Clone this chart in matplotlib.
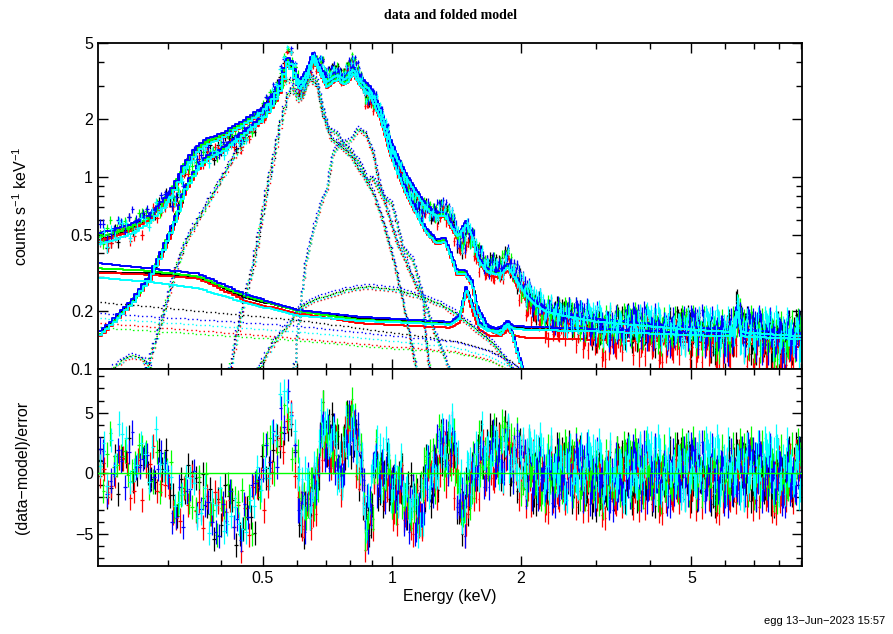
import numpy as np
import matplotlib
matplotlib.use('Agg')
from matplotlib import pyplot as plt
from matplotlib.ticker import FixedLocator, NullFormatter, MultipleLocator

plt.rcParams['font.family'] = ['Liberation Sans', 'DejaVu Sans']
plt.rcParams['mathtext.fontset'] = 'custom'
plt.rcParams['mathtext.rm'] = 'Liberation Sans'

colors = ['#000000', '#ff0000', '#00ff00', '#0000ff', '#00ffff']

# number of spectral bins per dataset in 0.2-0.6 / 0.6-2 / 2-9 keV
nbins = [[54, 150, 250], [52, 146, 262], [56, 152, 256], [55, 149, 259], [53, 147, 253]]

# source model (all components summed), counts/s/keV
src_E = [0.206, 0.22, 0.25, 0.272, 0.29, 0.308, 0.329, 0.35, 0.37, 0.4, 0.45, 0.5, 0.53,
         0.55, 0.57, 0.578, 0.61, 0.635, 0.655, 0.67, 0.705, 0.73, 0.748, 0.77, 0.79, 0.811,
         0.842, 0.888, 0.937, 0.965, 0.989, 1.044, 1.084, 1.14, 1.2, 1.27, 1.33, 1.37, 1.42,
         1.48, 1.54, 1.58, 1.67, 1.79, 1.86, 1.91, 1.96, 2.02, 2.1, 2.3, 3.0, 9.06]
src_val = [0.15, 0.17, 0.23, 0.30, 0.40, 0.55, 0.86, 1.10, 1.25, 1.37, 1.68, 2.02, 2.45,
           2.9, 3.85, 3.9, 2.9, 3.4, 4.2, 3.8, 3.0, 3.2, 3.3, 3.1, 3.2, 3.55,
           3.1, 2.7, 2.1, 1.7, 1.38, 1.0, 0.82, 0.66, 0.53, 0.46, 0.47, 0.40, 0.32,
           0.32, 0.28, 0.21, 0.165, 0.154, 0.172, 0.154, 0.125, 0.10, 0.07, 0.04, 0.02, 0.005]
src_norm = [1.0, 0.97, 1.0, 1.03, 0.98]

# background model per dataset
bg_E = [0.206, 0.27, 0.353, 0.46, 0.604, 0.842, 1.1, 1.37, 1.44, 1.49, 1.54, 1.6, 1.69,
        1.8, 1.86, 1.92, 2.07, 3.0, 5.0, 6.25, 6.4, 6.55, 9.06]
bg_black = [0.32, 0.315, 0.30, 0.233, 0.203, 0.183, 0.178, 0.172, 0.187, 0.265, 0.218, 0.172,
            0.16, 0.162, 0.178, 0.165, 0.162, 0.158, 0.152, 0.15, 0.197, 0.15, 0.145]
bg_red = [0.318, 0.31, 0.297, 0.224, 0.195, 0.173, 0.168, 0.164, 0.175, 0.253, 0.20, 0.16,
          0.148, 0.148, 0.16, 0.15, 0.145, 0.142, 0.138, 0.136, 0.18, 0.136, 0.13]
bg_green = [0.335, 0.325, 0.303, 0.238, 0.20, 0.18, 0.176, 0.171, 0.185, 0.262, 0.215, 0.17,
            0.158, 0.16, 0.174, 0.163, 0.16, 0.157, 0.15, 0.148, 0.195, 0.148, 0.143]
bg_blue = [0.356, 0.335, 0.315, 0.243, 0.203, 0.187, 0.181, 0.176, 0.19, 0.268, 0.22, 0.175,
           0.163, 0.165, 0.18, 0.168, 0.166, 0.162, 0.155, 0.153, 0.21, 0.153, 0.148]
bg_cyan = [0.299, 0.285, 0.263, 0.22, 0.19, 0.178, 0.174, 0.17, 0.184, 0.26, 0.213, 0.168,
           0.157, 0.159, 0.172, 0.162, 0.16, 0.157, 0.15, 0.148, 0.195, 0.148, 0.143]
bg_all = [bg_black, bg_red, bg_green, bg_blue, bg_cyan]

# individual model components (dotted)
compL_E = [0.262, 0.28, 0.295, 0.312, 0.33, 0.37, 0.425, 0.466, 0.51, 0.556, 0.578, 0.61,
           0.643, 0.668, 0.69, 0.71, 0.744, 0.77, 0.8, 0.842, 0.874, 0.9, 0.95, 1.0, 1.06,
           1.12, 1.18, 1.23, 1.27, 1.32, 1.38]
compL_val = [0.09, 0.14, 0.21, 0.33, 0.47, 0.73, 1.27, 1.72, 2.2, 3.1, 3.3, 2.6,
             3.5, 3.2, 2.3, 1.8, 1.7, 1.5, 1.38, 1.18, 0.97, 1.0, 0.8, 0.73, 0.43,
             0.37, 0.24, 0.18, 0.147, 0.12, 0.09]
compR_E = [0.415, 0.44, 0.475, 0.51, 0.548, 0.578, 0.61, 0.643, 0.668, 0.69, 0.72, 0.76,
           0.8, 0.85, 0.9, 0.95, 1.0, 1.05, 1.1, 1.15]
compR_val = [0.09, 0.18, 0.36, 0.86, 1.9, 3.0, 2.5, 3.3, 3.0, 2.1, 1.6, 1.45,
             1.3, 1.05, 0.85, 0.6, 0.4, 0.25, 0.15, 0.09]
compB_E = [0.59, 0.61, 0.627, 0.654, 0.69, 0.705, 0.717, 0.728, 0.757, 0.8, 0.833, 0.865,
           0.9, 0.93, 0.96, 0.99, 1.03, 1.08, 1.14, 1.18, 1.2, 1.23]
compB_val = [0.09, 0.2, 0.356, 0.53, 0.79, 0.86, 1.13, 1.34, 1.5, 1.56, 1.8, 1.7,
             1.38, 0.97, 0.75, 0.6, 0.45, 0.36, 0.27, 0.24, 0.14, 0.09]
compD_E = [0.48, 0.53, 0.578, 0.61, 0.654, 0.785, 0.874, 1.03, 1.16, 1.29, 1.39, 1.55,
           1.72, 1.86, 1.97]
compD_val = [0.095, 0.14, 0.175, 0.21, 0.23, 0.26, 0.27, 0.26, 0.24, 0.22, 0.20, 0.165,
             0.137, 0.11, 0.09]
compS_E = [0.212, 0.23, 0.245, 0.26, 0.275, 0.29]
compS_val = [0.09, 0.108, 0.118, 0.115, 0.10, 0.085]
bgdot_E = [0.206, 0.604, 1.0, 1.4, 1.7, 1.9, 2.1]
bgdot_val = [[0.224, 0.18, 0.155, 0.14, 0.125, 0.11, 0.09],
             [0.18, 0.149, 0.135, 0.128, 0.115, 0.10, 0.088],
             [0.165, 0.141, 0.128, 0.122, 0.11, 0.097, 0.085],
             [0.19, 0.163, 0.145, 0.135, 0.12, 0.105, 0.09],
             [0.188, 0.16, 0.143, 0.133, 0.118, 0.104, 0.09]]

# fractional 1-sigma error of the data
frac_E = [0.206, 0.3, 0.5, 0.7, 1.0, 1.5, 2.0, 3.0, 5.0, 9.06]
frac_val = [0.06, 0.05, 0.035, 0.03, 0.035, 0.05, 0.06, 0.08, 0.09, 0.11]

# mean (data-model)/error along the band
res_E = [0.206, 0.23, 0.26, 0.29, 0.308, 0.356, 0.39, 0.425, 0.466, 0.49, 0.51, 0.54, 0.556,
         0.578, 0.588, 0.61, 0.633, 0.668, 0.69, 0.717, 0.757, 0.785, 0.81, 0.833, 0.865,
         0.889, 0.92, 0.973, 1.03, 1.1, 1.14, 1.2, 1.29, 1.37, 1.44, 1.48, 1.55, 1.7, 1.86,
         2.02, 2.5, 3.18, 4.0, 6.0, 9.06]
res_trend = [0.2, 1.0, 1.1, 0.8, -1.7, -1.7, -3.6, -3.6, -3.8, -1.7, 0.5, 2.7, 4.6,
             4.0, 2.2, -2.3, -2.8, 0.2, 3.8, 3.0, 0.5, 2.4, 4.0, 1.6, -3.4,
             -3.6, 0.5, -0.3, -0.9, -2.2, -3.6, -1.2, 1.0, 2.4, -1.7, -3.1, 1.0, 1.6, 1.6,
             0.2, 0.0, -0.4, 0.0, 0.0, 0.0]
res_shift = [0.0, -0.6, 0.3, 0.0, 0.5]
scatter = [0.8, -1.3, 0.2, 1.9, -0.6, -2.1, 1.1, 0.4, -0.9, 2.4, -1.7, 0.1, 1.5, -0.3, -2.5,
           0.9, 1.8, -1.1, 0.5, -0.7, 2.1, -1.9, 0.0, 1.3, -0.4, -1.5, 2.6, -0.8, 0.6, -2.2,
           1.0, 0.3, -1.2, 1.7, -0.1, -2.7, 0.7, 2.0, -1.0, -0.5, 1.4, -1.8, 0.2, 2.3, -0.2,
           -1.4, 0.9, -2.3, 1.2, 0.4, -0.6, 1.6, -1.6]

emin, emax = 0.206, 9.06


def loginterp(x, xk, yk):
    return np.exp(np.interp(np.log(x), np.log(xk), np.log(yk),
                            left=np.log(1e-3), right=np.log(1e-3)))


fig = plt.figure(figsize=(8.93, 6.34), dpi=100)
ax1 = fig.add_axes([0.1097, 0.418, 0.7884, 0.5142])
ax2 = fig.add_axes([0.1097, 0.1073, 0.7884, 0.3107], sharex=ax1)

dots = (0, (1, 2.2))
for c, col in enumerate(colors):
    n0, n1, n2 = nbins[c]
    edges = np.concatenate([np.geomspace(emin, 0.6, n0 + 1)[:-1],
                            np.geomspace(0.6, 2.0, n1 + 1)[:-1],
                            np.geomspace(2.0, emax, n2 + 1)])
    lo, hi = edges[:-1], edges[1:]
    en = np.sqrt(lo * hi)
    xerr = [en - lo, hi - en]

    src = src_norm[c] * loginterp(en, src_E, src_val)
    bg = loginterp(en, bg_E, bg_all[c])
    tot = src + bg
    sig = tot * loginterp(en, frac_E, frac_val)
    idx = (7 * np.arange(len(en)) + 11 * c) % len(scatter)
    res = (np.interp(np.log(en), np.log(res_E), res_trend) + res_shift[c]
           + np.array(scatter)[idx])
    data = tot + res * sig

    # components
    for ek, vk in [(compL_E, compL_val), (compR_E, compR_val), (compB_E, compB_val),
                   (compD_E, compD_val), (compS_E, compS_val), (bgdot_E, bgdot_val[c])]:
        ax1.plot(en, src_norm[c] * loginterp(en, ek, vk), color=col, lw=1.0,
                 ls=dots, drawstyle='steps-mid')
    ax1.plot(en, bg, color=col, lw=1.4, drawstyle='steps-mid')
    ax1.plot(en, src, color=col, lw=1.4, drawstyle='steps-mid')
    ax1.errorbar(en, data, yerr=sig, xerr=xerr, fmt='none', ecolor=col, elinewidth=0.9)
    ax1.plot(en, tot, color=col, lw=1.4, drawstyle='steps-mid')

    ax2.errorbar(en, res, yerr=1.0, xerr=xerr, fmt='none', ecolor=col, elinewidth=0.9)

ax2.axhline(0, color='#00ff00', lw=1.0, zorder=10)

ax1.set_xscale('log')
ax1.set_yscale('log')
ax1.set_xlim(emin, emax)
ax1.set_ylim(0.1, 5)
ax2.set_ylim(-7.65, 8.6)

ax1.yaxis.set_major_locator(FixedLocator([0.1, 0.2, 0.5, 1, 2, 5]))
ax1.yaxis.set_minor_locator(FixedLocator([0.3, 0.4, 0.6, 0.7, 0.8, 0.9, 3, 4]))
ax1.yaxis.set_minor_formatter(NullFormatter())
ax1.set_yticklabels(['0.1', '0.2', '0.5', '1', '2', '5'])

ax2.xaxis.set_major_locator(FixedLocator([0.5, 1, 2, 5]))
ax2.xaxis.set_minor_locator(FixedLocator([0.3, 0.4, 0.6, 0.7, 0.8, 0.9, 3, 4, 6, 7, 8, 9]))
ax2.xaxis.set_minor_formatter(NullFormatter())
ax2.set_xticklabels(['0.5', '1', '2', '5'])
ax2.yaxis.set_major_locator(FixedLocator([-5, 0, 5]))
ax2.yaxis.set_minor_locator(MultipleLocator(1))
plt.setp(ax1.get_xticklabels(), visible=False)

for ax in (ax1, ax2):
    ax.tick_params(which='both', direction='in', top=True, right=True, labelsize=11.5)
    ax.tick_params(which='major', length=7, width=1)
    ax.tick_params(which='minor', length=4, width=1)
    for s in ax.spines.values():
        s.set_linewidth(1.3)

ax1.set_ylabel('counts s$^{-1}$ keV$^{-1}$', fontsize=11.5)
ax2.set_ylabel('(data\u2212model)/error', fontsize=11.5)
ax2.set_xlabel('Energy (keV)', fontsize=11.5, labelpad=2)
ax1.yaxis.set_label_coords(-0.097, 0.5)
ax2.yaxis.set_label_coords(-0.097, 0.5)

fig.text(0.504, 0.976, 'data and folded model', ha='center', va='center',
         fontsize=10, fontweight='bold', family='Liberation Serif')
fig.text(0.991, 0.02, 'egg 13\u2212Jun\u22122023 15:57', ha='right', va='center', fontsize=8)

plt.savefig('out.png', dpi=100)
